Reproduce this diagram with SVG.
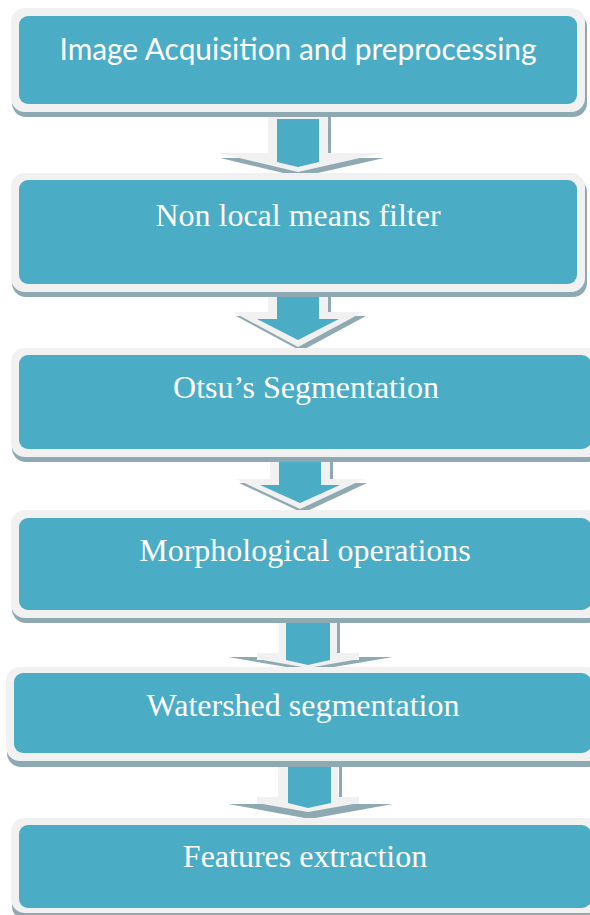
<svg xmlns="http://www.w3.org/2000/svg" width="590" height="915" viewBox="0 0 590 915">
<style>
.outer{fill:#f1f1f1}
.inner{fill:#4bacc6}
.shadow{fill:#8fa9b3}
.lg{fill:#f1f1f1}
.teal{fill:#4bacc6}
.t{fill:#ffffff;font-family:"Liberation Serif","Times New Roman",serif;font-size:32px;text-anchor:middle}
.ts{fill:#ffffff;font-family:Lato,"Open Sans",sans-serif;font-size:31px;text-anchor:middle}
</style>
<rect width="590" height="915" fill="#ffffff"/>
<g id="connectors">
  <g id="arrow1">
    <rect class="shadow" x="328" y="112" width="3" height="41"/>
    <polygon class="shadow" points="220,158 384,158 300,177"/>
    <rect class="lg" x="268" y="112" width="60" height="41"/>
    <polygon class="lg" points="218,153 382,153 298,172"/>
    <polygon class="teal" points="277,119 319,119 319,162 298,167 277,162"/>
  </g>
  <g id="arrow2">
    <rect class="shadow" x="328" y="292" width="3" height="20"/>
    <polygon class="shadow" points="236,316 366,316 301,351"/>
    <rect class="lg" x="268" y="292" width="60" height="20"/>
    <polygon class="lg" points="233,312 363,312 298,347"/>
    <rect class="teal" x="277" y="295" width="42" height="25"/>
    <polygon class="teal" points="257,319 339,319 298,340"/>
  </g>
  <g id="arrow3">
    <rect class="shadow" x="330" y="457" width="3" height="22"/>
    <polygon class="shadow" points="239,483 367,483 303,513"/>
    <rect class="lg" x="270" y="457" width="60" height="22"/>
    <polygon class="lg" points="236,479 364,479 300,509"/>
    <rect class="teal" x="279" y="460" width="42" height="26"/>
    <polygon class="teal" points="260,485 340,485 300,503"/>
  </g>
  <g id="arrow4">
    <rect class="shadow" x="337" y="618" width="3" height="35"/>
    <polygon class="shadow" points="228,657 393,657 310,671"/>
    <rect class="lg" x="279" y="618" width="58" height="35"/>
    <rect class="lg" x="257" y="653" width="102" height="7"/>
    <polygon class="lg" points="257,659 359,659 308,668"/>
    <polygon class="teal" points="286,622 330,622 330,660 308,665 286,660"/>
  </g>
  <g id="arrow5">
    <rect class="shadow" x="339" y="761" width="3" height="36"/>
    <polygon class="shadow" points="228,804 393,804 310,819"/>
    <rect class="lg" x="278" y="761" width="60" height="36"/>
    <rect class="lg" x="257" y="797" width="102" height="7"/>
    <polygon class="lg" points="257,803 359,803 308,812"/>
    <polygon class="teal" points="288,767 331,767 331,803 308,808 288,803"/>
  </g>
</g>
<g id="node1">
  <rect class="shadow" x="12" y="13" width="575" height="104" rx="14"/>
  <rect class="outer" x="11" y="8" width="574" height="104" rx="14"/>
  <rect class="inner" x="19" y="16" width="558" height="88" rx="9"/>
  <text class="ts" x="298" y="60" textLength="477" lengthAdjust="spacingAndGlyphs">Image Acquisition and preprocessing</text>
</g>
<g id="node2">
  <rect class="shadow" x="12" y="178" width="575" height="119" rx="14"/>
  <rect class="outer" x="11" y="173" width="574" height="119" rx="14"/>
  <rect class="inner" x="19" y="180" width="558" height="104" rx="9"/>
  <text class="t" x="298" y="226">Non local means filter</text>
</g>
<g id="node3">
  <rect class="shadow" x="12" y="353" width="590" height="109" rx="14"/>
  <rect class="outer" x="11" y="348" width="590" height="109" rx="14"/>
  <rect class="inner" x="19" y="355" width="572" height="94" rx="9"/>
  <text class="t" x="306" y="398">Otsu’s Segmentation</text>
</g>
<g id="node4">
  <rect class="shadow" x="12" y="515" width="590" height="108" rx="14"/>
  <rect class="outer" x="11" y="510" width="590" height="108" rx="14"/>
  <rect class="inner" x="19" y="518" width="572" height="92" rx="9"/>
  <text class="t" x="305" y="561">Morphological operations</text>
</g>
<g id="node5">
  <rect class="shadow" x="7" y="672" width="595" height="95" rx="14"/>
  <rect class="outer" x="6" y="667" width="595" height="94" rx="14"/>
  <rect class="inner" x="14" y="673" width="577" height="80" rx="9"/>
  <text class="t" x="303" y="716">Watershed segmentation</text>
</g>
<g id="node6">
  <rect class="shadow" x="12" y="823" width="590" height="97" rx="14"/>
  <rect class="outer" x="11" y="818" width="590" height="95" rx="14"/>
  <rect class="inner" x="19" y="825" width="572" height="83" rx="9"/>
  <text class="t" x="305" y="867">Features extraction</text>
</g>
</svg>
